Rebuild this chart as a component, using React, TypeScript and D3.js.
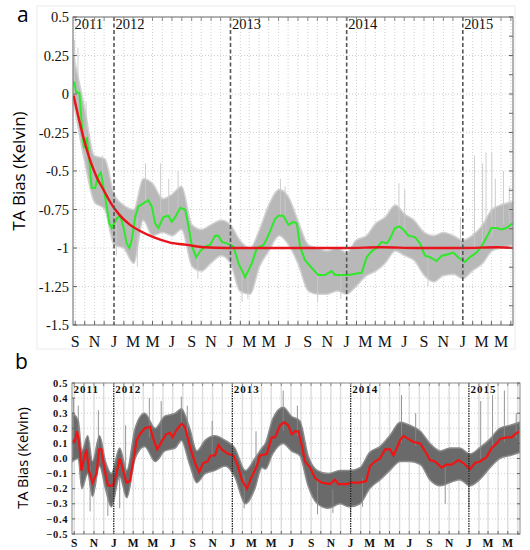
import React, { useEffect, useRef } from 'react';
import * as d3 from 'd3';

// ---- data (decimal years) ----
const domainYears = [2011.647, 2015.432];
const yearLabels = ['2011', '2012', '2013', '2014', '2015'];

// panel a: smoothed bias (green)
const aGreenT = [2011.656, 2011.673, 2011.702, 2011.731, 2011.742, 2011.765, 2011.788, 2011.808, 2011.837, 2011.865, 2011.888, 2011.908, 2011.937, 2011.96, 2011.98, 2012.023, 2012.052, 2012.08, 2012.109, 2012.132, 2012.152, 2012.181, 2012.209, 2012.252, 2012.295, 2012.324, 2012.353, 2012.381, 2012.424, 2012.467, 2012.496, 2012.525, 2012.568, 2012.611, 2012.64, 2012.669, 2012.706, 2012.74, 2012.783, 2012.825, 2012.868, 2012.897, 2012.926, 2012.969, 2013.026, 2013.069, 2013.126, 2013.184, 2013.227, 2013.284, 2013.313, 2013.341, 2013.384, 2013.413, 2013.456, 2013.499, 2013.542, 2013.571, 2013.599, 2013.642, 2013.7, 2013.756, 2013.814, 2013.871, 2013.9, 2013.958, 2014.015, 2014.087, 2014.13, 2014.173, 2014.216, 2014.259, 2014.302, 2014.345, 2014.373, 2014.416, 2014.453, 2014.488, 2014.531, 2014.588, 2014.631, 2014.674, 2014.717, 2014.775, 2014.818, 2014.874, 2014.917, 2014.96, 2015.017, 2015.06, 2015.118, 2015.161, 2015.204, 2015.247, 2015.29, 2015.333, 2015.376, 2015.428];
const aGreenV = [0.08, 0.015, 0.005, -0.277, -0.35, -0.28, -0.43, -0.61, -0.61, -0.53, -0.51, -0.6, -0.73, -0.84, -0.87, -0.81, -0.79, -0.86, -0.97, -1.0, -0.95, -0.8, -0.73, -0.71, -0.69, -0.73, -0.84, -0.87, -0.8, -0.79, -0.83, -0.8, -0.74, -0.75, -0.86, -0.99, -1.06, -1.02, -0.99, -0.98, -0.92, -0.92, -0.96, -0.97, -0.99, -1.1, -1.19, -1.1, -1.0, -0.98, -0.94, -0.89, -0.81, -0.79, -0.79, -0.85, -0.83, -0.84, -0.99, -1.08, -1.13, -1.175, -1.175, -1.15, -1.175, -1.175, -1.175, -1.165, -1.16, -1.06, -1.02, -1.0, -0.96, -0.97, -0.94, -0.87, -0.86, -0.88, -0.92, -0.93, -0.97, -1.05, -1.06, -1.085, -1.05, -1.04, -1.03, -1.06, -1.09, -1.06, -1.03, -0.99, -0.93, -0.87, -0.87, -0.88, -0.87, -0.84];

// panel a: exponential fit (red)
const aRedT = [2011.652, 2011.736, 2011.794, 2011.851, 2011.908, 2011.966, 2012.052, 2012.138, 2012.224, 2012.338, 2012.481, 2012.625, 2012.768, 2012.969, 2013.5, 2014.0, 2014.3, 2014.6, 2015.0, 2015.3, 2015.43];
const aRedV = [-0.01, -0.28, -0.43, -0.54, -0.62, -0.7, -0.79, -0.85, -0.89, -0.93, -0.965, -0.98, -0.995, -1.0, -1.0, -1.0, -0.995, -1.0, -1.0, -0.995, -1.0];

// panel a: raw data spread (gray)
const aBandT = [2011.652, 2011.75, 2011.83, 2011.92, 2012.0, 2012.08, 2012.17, 2012.25, 2012.33, 2012.42, 2012.5, 2012.58, 2012.67, 2012.75, 2012.83, 2012.92, 2013.0, 2013.08, 2013.17, 2013.25, 2013.33, 2013.42, 2013.5, 2013.58, 2013.67, 2013.75, 2013.83, 2013.92, 2014.0, 2014.08, 2014.17, 2014.25, 2014.33, 2014.42, 2014.5, 2014.58, 2014.67, 2014.75, 2014.83, 2014.92, 2015.0, 2015.08, 2015.17, 2015.25, 2015.33, 2015.43];
const aBandHi = [0.25, -0.1, -0.4, -0.42, -0.65, -0.72, -0.75, -0.55, -0.58, -0.68, -0.65, -0.6, -0.85, -0.88, -0.85, -0.82, -0.85, -0.95, -1.0, -0.88, -0.72, -0.62, -0.67, -0.82, -0.98, -1.0, -1.02, -1.0, -1.03, -0.95, -0.92, -0.84, -0.8, -0.72, -0.78, -0.82, -0.9, -0.92, -0.9, -0.92, -0.95, -0.92, -0.85, -0.75, -0.72, -0.7];
const aBandLo = [-0.05, -0.45, -0.7, -0.75, -0.98, -1.0, -1.1, -0.82, -0.92, -0.9, -0.92, -0.88, -1.12, -1.15, -1.1, -1.05, -1.1, -1.28, -1.3, -1.12, -1.02, -0.92, -0.98, -1.1, -1.28, -1.3, -1.3, -1.28, -1.3, -1.25, -1.18, -1.15, -1.1, -1.02, -1.05, -1.08, -1.18, -1.22, -1.18, -1.17, -1.2, -1.15, -1.1, -1.02, -1.0, -0.98];
const aSpikeT = [2011.66, 2011.69, 2011.76, 2011.9, 2012.02, 2012.2, 2012.27, 2012.4, 2012.47, 2012.55, 2012.72, 2013.1, 2013.15, 2013.43, 2013.47, 2013.75, 2013.95, 2014.45, 2014.5, 2014.7, 2014.98, 2015.1, 2015.17, 2015.2, 2015.25, 2015.28, 2015.35, 2015.4];
const aSpikeV = [0.35, 0.3, -0.05, -0.4, -1.05, -1.12, -0.45, -0.45, -0.55, -0.5, -1.2, -1.35, -1.33, -0.55, -0.6, -1.35, -1.33, -0.58, -0.62, -1.25, -0.8, -0.4, -0.45, -0.38, -0.38, -0.55, -0.5, -0.6];

// panel b: smoothed corrected bias (red)
const bRedT = [2011.651, 2011.67, 2011.69, 2011.707, 2011.727, 2011.746, 2011.77, 2011.79, 2011.82, 2011.854, 2011.876, 2011.896, 2011.924, 2011.952, 2011.994, 2012.023, 2012.051, 2012.079, 2012.107, 2012.135, 2012.163, 2012.192, 2012.22, 2012.262, 2012.304, 2012.338, 2012.366, 2012.403, 2012.44, 2012.473, 2012.496, 2012.53, 2012.572, 2012.6, 2012.642, 2012.685, 2012.72, 2012.755, 2012.789, 2012.817, 2012.854, 2012.882, 2012.91, 2012.966, 2013.008, 2013.042, 2013.079, 2013.122, 2013.164, 2013.206, 2013.234, 2013.291, 2013.333, 2013.361, 2013.403, 2013.437, 2013.473, 2013.502, 2013.53, 2013.558, 2013.586, 2013.614, 2013.657, 2013.699, 2013.756, 2013.826, 2013.868, 2013.896, 2013.967, 2014.009, 2014.079, 2014.13, 2014.164, 2014.206, 2014.248, 2014.291, 2014.333, 2014.361, 2014.39, 2014.418, 2014.446, 2014.488, 2014.53, 2014.587, 2014.629, 2014.671, 2014.713, 2014.77, 2014.812, 2014.855, 2014.911, 2014.953, 2015.009, 2015.052, 2015.094, 2015.15, 2015.192, 2015.235, 2015.263, 2015.32, 2015.361, 2015.389, 2015.426];
const bRedV = [0.12, 0.11, 0.18, 0.11, -0.08, -0.01, 0.06, -0.08, -0.16, -0.1, 0.06, 0.06, -0.08, -0.18, -0.18, -0.1, 0.0, -0.08, -0.16, -0.15, -0.03, 0.12, 0.16, 0.2, 0.21, 0.12, 0.06, 0.11, 0.16, 0.17, 0.14, 0.19, 0.23, 0.21, 0.08, -0.03, -0.09, -0.03, -0.02, 0.02, 0.02, 0.09, 0.06, 0.03, 0.02, -0.04, -0.14, -0.2, -0.12, -0.05, 0.02, 0.03, 0.14, 0.14, 0.22, 0.24, 0.22, 0.16, 0.18, 0.18, 0.09, -0.02, -0.06, -0.13, -0.16, -0.17, -0.14, -0.17, -0.17, -0.16, -0.16, -0.15, -0.05, -0.02, 0.0, 0.06, 0.06, 0.02, 0.07, 0.12, 0.15, 0.13, 0.11, 0.1, 0.05, -0.01, -0.02, -0.06, -0.04, -0.04, -0.01, -0.03, -0.07, -0.03, -0.02, 0.01, 0.07, 0.1, 0.13, 0.14, 0.14, 0.16, 0.18];

// panel b: raw data spread (dark gray)
const bBandT = [2011.651, 2011.7, 2011.73, 2011.78, 2011.82, 2011.88, 2011.93, 2011.98, 2012.05, 2012.11, 2012.18, 2012.26, 2012.35, 2012.43, 2012.52, 2012.57, 2012.64, 2012.7, 2012.77, 2012.85, 2012.94, 2013.02, 2013.11, 2013.19, 2013.25, 2013.28, 2013.34, 2013.43, 2013.5, 2013.57, 2013.64, 2013.72, 2013.81, 2013.91, 2013.99, 2014.08, 2014.16, 2014.25, 2014.33, 2014.42, 2014.5, 2014.59, 2014.67, 2014.76, 2014.84, 2014.92, 2015.01, 2015.09, 2015.18, 2015.26, 2015.35, 2015.43];
const bBandHi = [0.3, 0.25, 0.05, 0.15, -0.02, 0.15, -0.02, -0.1, 0.07, -0.08, 0.2, 0.3, 0.2, 0.28, 0.3, 0.33, 0.2, 0.05, 0.12, 0.15, 0.12, 0.07, -0.08, 0.0, 0.07, 0.1, 0.26, 0.34, 0.28, 0.25, 0.02, -0.08, -0.1, -0.08, -0.08, -0.06, 0.04, 0.08, 0.15, 0.24, 0.22, 0.18, 0.1, 0.05, 0.07, 0.07, 0.03, 0.07, 0.13, 0.2, 0.22, 0.24];
const bBandLo = [-0.02, 0.0, -0.2, -0.1, -0.25, -0.05, -0.2, -0.32, -0.12, -0.26, 0.0, 0.08, -0.02, 0.05, 0.07, 0.12, -0.04, -0.16, -0.1, -0.08, -0.05, -0.12, -0.3, -0.2, -0.06, -0.07, 0.03, 0.1, 0.05, 0.02, -0.18, -0.3, -0.33, -0.3, -0.32, -0.3, -0.2, -0.14, -0.08, -0.02, -0.02, -0.04, -0.14, -0.18, -0.16, -0.14, -0.18, -0.14, -0.06, 0.0, 0.02, 0.04];
const bSpikeT = [2011.66, 2011.7, 2011.8, 2011.87, 2011.95, 2012.05, 2012.1, 2012.3, 2012.4, 2012.57, 2012.62, 2012.83, 2013.1, 2013.2, 2013.43, 2013.55, 2013.72, 2013.85, 2014.0, 2014.1, 2014.43, 2014.55, 2014.8, 2015.0, 2015.1, 2015.2, 2015.3, 2015.4];
const bSpikeV = [0.4, 0.35, -0.35, 0.32, -0.38, -0.33, 0.22, 0.4, 0.38, 0.41, 0.35, 0.25, -0.33, 0.18, 0.45, 0.35, -0.37, -0.36, -0.38, -0.32, 0.42, 0.3, -0.3, -0.33, 0.38, 0.42, 0.45, 0.3];

const aTicks = [0.5, 0.25, 0, -0.25, -0.5, -0.75, -1, -1.25, -1.5];
const bTicks = [0.5, 0.4, 0.3, 0.2, 0.1, 0, -0.1, -0.2, -0.3, -0.4, -0.5];

const toDate = (t: number) => {
  const y = Math.floor(t);
  const s = +new Date(y, 0, 1);
  const e = +new Date(y + 1, 0, 1);
  return new Date(s + (t - y) * (e - s));
};

interface PanelProps {
  style: 'a' | 'b';
  box: { left: number; right: number; top: number; bottom: number };
  yDomain: [number, number];
  ticks: number[];
}

function drawPanel(root: d3.Selection<SVGGElement, unknown, null, undefined>, p: PanelProps) {
  const { box, style } = p;
  const isA = style === 'a';
  const x = d3.scaleTime().domain(domainYears.map(toDate)).range([box.left, box.right]);
  const y = d3.scaleLinear().domain(p.yDomain).range([box.bottom, box.top]);
  const serif = '"Liberation Serif", "DejaVu Serif", serif';
  const g = root.append('g');

  const clipId = 'clip-' + style;
  g.append('clipPath').attr('id', clipId).append('rect')
    .attr('x', box.left).attr('y', box.top)
    .attr('width', box.right - box.left).attr('height', box.bottom - box.top);

  const months = d3.timeMonth.range(x.domain()[0], x.domain()[1]);
  const years = months.filter(d => d.getMonth() === 0);

  // grid
  g.selectAll('.vgrid').data(months.filter(d => d.getMonth() !== 0)).enter().append('line')
    .attr('x1', d => x(d)).attr('x2', d => x(d))
    .attr('y1', box.top).attr('y2', box.bottom)
    .attr('stroke', isA ? '#c4c4c4' : '#dcdcdc')
    .attr('stroke-width', isA ? 0.8 : 1.4)
    .attr('stroke-dasharray', isA ? '1,2' : null);
  g.selectAll('.hgrid').data(p.ticks.slice(1, -1)).enter().append('line')
    .attr('x1', box.left).attr('x2', box.right)
    .attr('y1', d => y(d)).attr('y2', d => y(d))
    .attr('stroke', isA ? '#c4c4c4' : '#c0c0c0')
    .attr('stroke-width', 0.8)
    .attr('stroke-dasharray', '1,2');

  const data = g.append('g').attr('clip-path', `url(#${clipId})`);
  const bandT = isA ? aBandT : bBandT;
  const hi = isA ? aBandHi : bBandHi;
  const lo = isA ? aBandLo : bBandLo;
  const area = d3.area<number>()
    .x((_, i) => x(toDate(bandT[i])))
    .y0((_, i) => y(lo[i]))
    .y1((_, i) => y(hi[i]))
    .curve(d3.curveMonotoneX);
  data.append('path').datum(bandT).attr('d', area)
    .attr('fill', isA ? '#b8b8b8' : '#6a6a6a')
    .attr('stroke', isA ? '#d2d2d2' : '#8c8c8c')
    .attr('stroke-width', 1.5);

  // spikes from band to extreme values
  const spT = isA ? aSpikeT : bSpikeT;
  const spV = isA ? aSpikeV : bSpikeV;
  const centre = (t: number) => {
    const i = Math.max(1, d3.bisectLeft(bandT, t));
    const j = Math.min(i, bandT.length - 1);
    return (hi[j] + lo[j] + hi[j - 1] + lo[j - 1]) / 4;
  };
  data.selectAll('.spike').data(spT).enter().append('line')
    .attr('x1', d => x(toDate(d))).attr('x2', d => x(toDate(d)))
    .attr('y1', d => y(centre(d)))
    .attr('y2', (_, i) => y(spV[i]))
    .attr('stroke', isA ? '#c8c8c8' : '#8a8a8a')
    .attr('stroke-width', 0.9);

  if (isA) {
    data.append('path')
      .attr('d', d3.line<number>().x(t => x(toDate(t))).y((_, i) => y(aGreenV[i]))(aGreenT) || '')
      .attr('fill', 'none').attr('stroke', '#2ee82a').attr('stroke-width', 2);
    data.append('path')
      .attr('d', d3.line<number>().x(t => x(toDate(t))).y((_, i) => y(aRedV[i])).curve(d3.curveMonotoneX)(aRedT) || '')
      .attr('fill', 'none').attr('stroke', '#e8141b').attr('stroke-width', 2.4);
  } else {
    data.append('path')
      .attr('d', d3.line<number>().x(t => x(toDate(t))).y((_, i) => y(bRedV[i]))(bRedT) || '')
      .attr('fill', 'none').attr('stroke', '#f01414').attr('stroke-width', 2.2);
  }

  // year separators
  g.selectAll('.yr').data(years).enter().append('line')
    .attr('x1', d => x(d)).attr('x2', d => x(d))
    .attr('y1', box.top).attr('y2', box.bottom)
    .attr('stroke', isA ? '#555' : '#222')
    .attr('stroke-width', isA ? 1.6 : 1.3)
    .attr('stroke-dasharray', isA ? '4,2.5' : '1.5,1');

  // frame
  g.append('rect')
    .attr('x', box.left).attr('y', box.top)
    .attr('width', box.right - box.left).attr('height', box.bottom - box.top)
    .attr('fill', 'none').attr('stroke', isA ? '#666' : '#888').attr('stroke-width', 1);

  // inner ticks
  const tl = isA ? 4 : 3;
  g.selectAll('.bt').data(months).enter().append('line')
    .attr('x1', d => x(d)).attr('x2', d => x(d))
    .attr('y1', box.bottom).attr('y2', box.bottom - tl).attr('stroke', '#666');
  g.selectAll('.tt').data(months).enter().append('line')
    .attr('x1', d => x(d)).attr('x2', d => x(d))
    .attr('y1', box.top).attr('y2', box.top + tl).attr('stroke', '#888');
  const minor = isA ? d3.range(p.yDomain[0], p.yDomain[1] + 0.01, 0.125) : p.ticks;
  g.selectAll('.rt').data(minor).enter().append('line')
    .attr('x1', box.right).attr('x2', box.right - tl)
    .attr('y1', d => y(d)).attr('y2', d => y(d)).attr('stroke', '#666');
  g.selectAll('.lt').data(p.ticks).enter().append('line')
    .attr('x1', box.left).attr('x2', box.left + tl)
    .attr('y1', d => y(d)).attr('y2', d => y(d)).attr('stroke', '#666');

  // y tick labels
  g.selectAll('.yl').data(p.ticks).enter().append('text')
    .attr('x', box.left - (isA ? 4 : 4)).attr('y', d => y(d))
    .attr('dy', '0.35em')
    .attr('text-anchor', 'end')
    .style('font-family', serif)
    .style('font-size', isA ? '14.5px' : '10.5px')
    .style('font-weight', isA ? 'normal' : 'bold')
    .style('letter-spacing', isA ? '0' : '0.6px')
    .attr('fill', '#111')
    .text(d => isA ? String(d) : d3.format('.1f')(d));

  // month labels
  const fmt = d3.timeFormat('%b');
  g.selectAll('.ml').data(months.filter(d => d.getMonth() % 2 === 0)).enter().append('text')
    .attr('x', d => x(d)).attr('y', box.bottom + (isA ? 22 : 13))
    .attr('text-anchor', 'middle')
    .style('font-family', serif)
    .style('font-size', isA ? '16px' : '11.5px')
    .style('font-weight', isA ? 'normal' : 'bold')
    .attr('fill', '#111')
    .text(d => fmt(d)[0]);

  // year labels
  const yearPos = [x.domain()[0], ...years];
  g.selectAll('.yy').data(yearPos).enter().append('text')
    .attr('x', d => x(d) + 1.5).attr('y', box.top + (isA ? 12 : 10))
    .style('font-family', serif)
    .style('font-size', isA ? '14.5px' : '11px')
    .style('font-weight', isA ? 'normal' : 'bold')
    .style('letter-spacing', isA ? '0' : '1px')
    .attr('fill', '#111')
    .text((_, i) => yearLabels[i]);
}

const App: React.FC = () => {
  const svgRef = useRef<SVGSVGElement>(null);

  useEffect(() => {
    if (!svgRef.current) return;
    const svg = d3.select(svgRef.current);
    svg.selectAll('*').remove();
    const root = svg.append('g');
    const sans = '"Open Sans", "Liberation Sans", sans-serif';

    // faint outer frame of panel a
    root.append('rect').attr('x', 37).attr('y', 6).attr('width', 478).attr('height', 343)
      .attr('fill', 'none').attr('stroke', '#ececec');

    drawPanel(root, { style: 'a', box: { left: 73, right: 513, top: 17, bottom: 325 }, yDomain: [-1.5, 0.5], ticks: aTicks });
    drawPanel(root, { style: 'b', box: { left: 72, right: 520, top: 383, bottom: 534 }, yDomain: [-0.5, 0.5], ticks: bTicks });

    root.append('text').attr('x', 17).attr('y', 22).style('font-family', sans).style('font-size', '21px').text('a');
    root.append('text').attr('x', 15).attr('y', 369).style('font-family', sans).style('font-size', '21px').text('b');
    root.append('text').attr('transform', 'translate(25,171) rotate(-90)')
      .attr('text-anchor', 'middle').style('font-family', sans).style('font-size', '17px').text('TA Bias (Kelvin)');
    root.append('text').attr('transform', 'translate(28,458) rotate(-90)')
      .attr('text-anchor', 'middle').style('font-family', sans).style('font-size', '14.5px').text('TA Bias (Kelvin)');
  }, []);

  return (
    <div>
      <style>{`body{margin:0;background:#fff}`}</style>
      <svg ref={svgRef} width={530} height={550} style={{ display: 'block' }}></svg>
    </div>
  );
};

export default App;
